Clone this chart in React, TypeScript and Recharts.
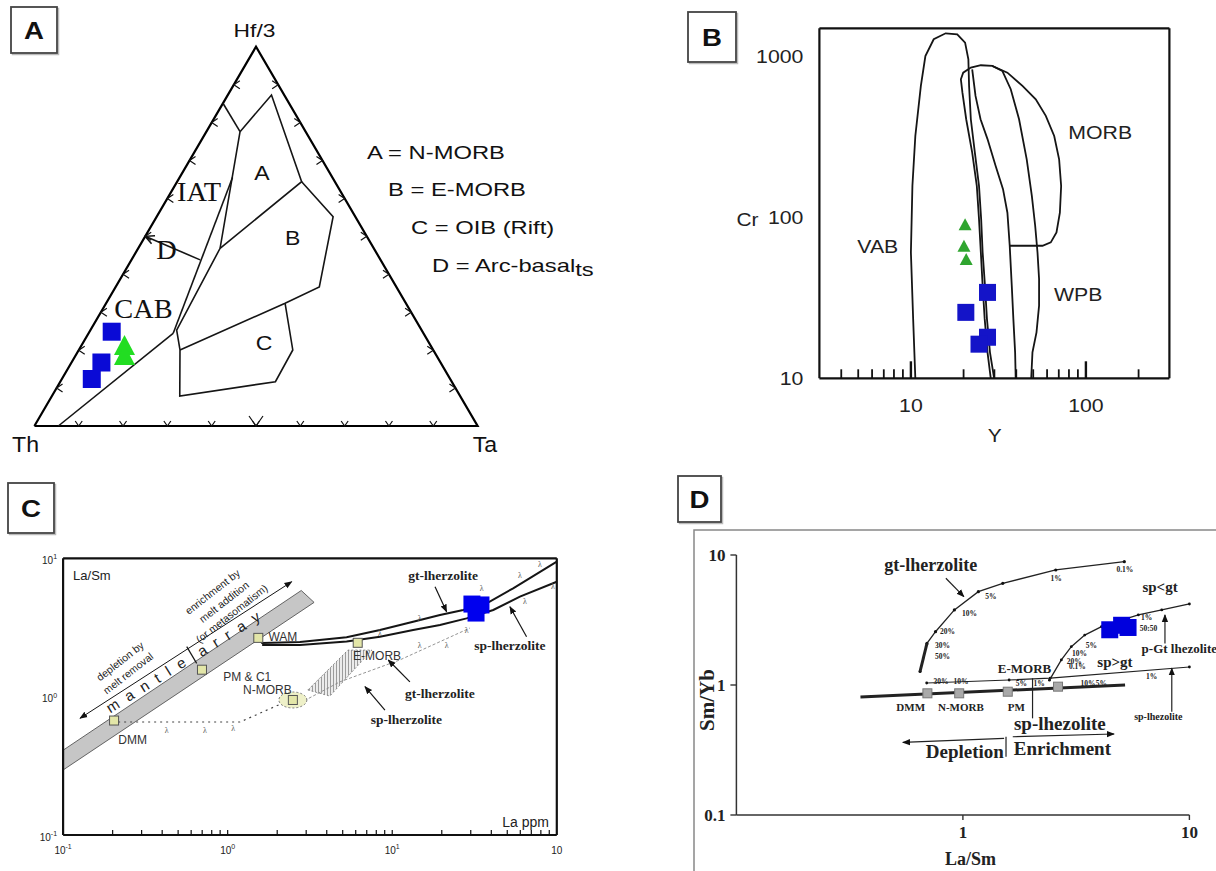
import React from "react";
import { ScatterChart, Scatter, XAxis, YAxis } from "recharts";

const SANS = "Arial, 'Liberation Sans', Helvetica, sans-serif";
const SERIF = "'Times New Roman', 'Liberation Serif', Times, serif";

type Pt = { x: number; y: number };
type Lbl = { x: number; y: number; t: string };

// ---------- A: Th - Hf/3 - Ta ternary, rows are [Th, Hf/3, Ta]
const A_FRAME = [[1, 0, 0], [0, 1, 0], [0, 0, 1], [1, 0, 0]];
const A_LINE_BASE = [[0.946, 0, 0.054], [0.565, 0.244, 0.191]];
const A_LINE_LEFT = [[0.565, 0.244, 0.191], [0.2255, 0.655, 0.1195]];
const A_LINE_RIGHT = [[0.5713, 0.2004, 0.2283], [0.5525, 0.253, 0.1945], [0.3468, 0.4685, 0.1847], [0.148, 0.776, 0.076]];
const A_LINE_TOP = [[0.149, 0.851, 0], [0.148, 0.776, 0.076]];
const A_FIELD_A = [[0.148, 0.776, 0.076], [0.0287, 0.8727, 0.0986], [0.075, 0.644, 0.281], [0.3468, 0.4685, 0.1847]];
const A_FIELD_B = [[0.075, 0.644, 0.281], [0.05, 0.552, 0.398], [0.174, 0.367, 0.46], [0.2726, 0.3235, 0.4039], [0.5713, 0.2004, 0.2283]];
const A_FIELD_C = [[0.2726, 0.3235, 0.4039], [0.3168, 0.2004, 0.4828], [0.398, 0.1168, 0.4856], [0.6325, 0.079, 0.2885], [0.5713, 0.2004, 0.2283]];
const A_ARROW_D = [[0.407, 0.438, 0.155], [0.5, 0.5, 0]];
const A_TICKS = [0.1, 0.2, 0.3, 0.4, 0.5, 0.6, 0.7, 0.8, 0.9];
const A_BIG_TICK = [0.5];
const A_BASALT = [[0.7013, 0.2486, 0.0501], [0.7651, 0.1674, 0.0675], [0.8085, 0.1239, 0.0675]];
const A_GREEN = [[0.6899, 0.2136, 0.0965], [0.7031, 0.1872, 0.1097]];
const A_FIELD_NAMES: [number[], string][] = [[[0.1535, 0.667, 0.18], "A"], [[0.1695, 0.495, 0.3355], "B"], [[0.373, 0.218, 0.409], "C"]];
const A_ARC_NAMES: [number[], string][] = [[[0.3197, 0.6177, 0.0626], "IAT"], [[0.47, 0.464, 0.066], "D"], [[0.599, 0.31, 0.091], "CAB"]];

// ---------- B: Cr vs Y
const B_X_DOMAIN = [3, 300];
const B_Y_DOMAIN = [10, 1500];
const B_X_MINOR = [4, 5, 6, 7, 8, 9, 20, 30, 40, 50, 60, 70, 80, 90, 200];
const B_X_LABELED = [10, 100];
const B_Y_MINOR = [20, 30, 40, 50, 60, 70, 80, 90, 200, 300, 400, 500, 600, 700, 800, 900];
const B_Y_LABELED = [10, 100, 1000];
const B_VAB = [[10.6, 10], [10.3, 23.4], [10.0, 60.6], [10.2, 157], [10.6, 321], [11.4, 658], [12.1, 1009], [13.5, 1282], [15.8, 1396], [18.4, 1377], [20.4, 1222], [21.3, 962], [21.5, 658], [22.0, 408], [23.2, 253], [24.5, 157], [25.2, 97.7], [25.7, 60.6], [26.5, 37.7], [27.2, 23.4], [28.3, 14.5], [29.9, 10]];
const B_WPB = [[28.6, 10], [27.4, 14.5], [26.4, 23.4], [25.7, 37.7], [25.1, 60.6], [24.5, 97.7], [23.8, 157], [22.4, 253], [20.7, 408], [19.7, 597], [19.3, 723], [19.9, 795], [22.0, 855], [25.1, 884], [29.2, 875], [33.3, 814], [37.2, 627], [41.5, 408], [45.9, 230], [49.1, 136], [51.3, 88.8], [52.9, 60.6], [54.0, 41.4], [54.0, 28.3], [52.2, 19.3], [49.5, 14.5], [48.7, 10]];
const B_MORB_LEFT = [[22.4, 834], [23.4, 570], [25.0, 408], [27.4, 307], [30.5, 209], [33.6, 150], [35.6, 107], [36.7, 66.7], [37.7, 37.7], [38.5, 23.4], [39.4, 14.5], [39.7, 10]];
const B_MORB = [[29.2, 875], [35.6, 795], [43.4, 658], [51.7, 543], [59.0, 428], [65.9, 321], [70.3, 230], [72.2, 157], [71.0, 107], [67.9, 80.7], [63.0, 70.0], [56.5, 66.7], [36.7, 66.7]];
const B_BASALT = [[27.4, 34.2], [20.6, 25.7], [27.4, 18.0], [24.5, 16.3]];
const B_GREEN = [[20.4, 90.9], [20.1, 66.7], [20.7, 55.1]];
const B_NAMES: [number, number, string][] = [[6.47, 66.4, "VAB"], [120.8, 339, "MORB"], [90.4, 33.4, "WPB"]];

// ---------- C: La/Sm vs La ppm
const C_X_DOMAIN = [0.1, 100];
const C_Y_DOMAIN = [0.1, 10];
const C_X_TICKS = [0.2, 0.3, 0.4, 0.5, 0.6, 0.7, 0.8, 0.9, 1, 2, 3, 4, 5, 6, 7, 8, 9, 10, 20, 30, 40, 50, 60, 70, 80, 90];
const C_X_MAJOR = [0.1, 1, 10, 100];
const C_X_EXP = ["-1", "0", "1", ""];
const C_Y_MINOR = [0.2, 0.3, 0.4, 0.5, 0.6, 0.7, 0.8, 0.9, 2, 3, 4, 5, 6, 7, 8, 9];
const C_Y_MAJOR = [0.1, 1, 10];
const C_Y_EXP = ["-1", "0", "1"];
const C_BAND = [[0.1, 0.41], [2.8, 5.85], [3.35, 4.8], [0.1, 0.295], [0.1, 0.41]];
const C_HATCH = [[3.07, 1.117], [5.38, 2.17], [7.53, 2.17], [4.18, 1.01], [3.07, 1.117]];
const C_UPPER = [[1.535, 2.66], [1.62, 2.44], [2.75, 2.48], [5.28, 2.69], [8.42, 3.03], [13.4, 3.48], [19.5, 3.89], [27.0, 4.23], [37.5, 4.73], [54.3, 6.07], [100, 9.45]];
const C_LOWER = [[1.62, 2.36], [2.75, 2.36], [5.28, 2.5], [8.42, 2.71], [13.4, 3.03], [19.5, 3.3], [28.3, 3.68], [41.1, 4.23], [59.7, 5.28], [100, 6.77]];
const C_DMM_TRACE = [[0.216, 0.656], [1.19, 0.656], [2.17, 0.9]];
const C_SP_TRACE = [[2.75, 0.9], [4.81, 1.28], [11.1, 1.84], [29.6, 3.13]];
const C_TREND = [[0.1267, 0.6975], [2.45, 6.77]];
const C_DIVIDER = [[0.564, 2.3], [0.648, 1.74]];
const C_ARROWS = [
  [[18.2, 6.23], [21.4, 4.11]],
  [[65.5, 2.71], [51.9, 4.47]],
  [[12.8, 1.28], [9.46, 1.84]],
  [[9.03, 0.8], [6.83, 1.18]],
];
const C_SOURCES = [[0.204, 0.672], [0.698, 1.566], [1.535, 2.66], [6.17, 2.45]];
const C_NMORB = [[2.49, 0.946]];
const C_BASALT = [[30.5, 4.67], [34.6, 4.6], [32.3, 4.02]];
const C_MELT = [[34.9, 6.07], [59.7, 7.57], [78.9, 8.95], [64.0, 4.86], [94.6, 6.23], [14.7, 3.68], [8.42, 2.87], [14.7, 2.36], [21.4, 2.36], [28.3, 3.03], [0.426, 0.574], [0.727, 0.574], [1.08, 0.59]];
const C_SOURCE_NAMES: [number, number, string][] = [[1.77, 2.69, "WAM"], [0.94, 1.39, "PM & C1"], [1.24, 1.12, "N-MORB"], [0.2165, 0.486, "DMM"], [5.78, 1.96, "E-MORB"]];
const C_CORNER_TOP: [number, number, string][] = [[0.115, 7.57, "La/Sm"]];
const C_CORNER_BOTTOM: [number, number, string][] = [[89.5, 0.124, "La ppm"]];
const C_MODEL_NAMES: [number, number, string][] = [[20.4, 7.57, "gt-lherzolite"], [51.9, 2.36, "sp-lherzolite"], [19.5, 1.057, "gt-lherzolite"], [12.2, 0.678, "sp-lherzolite"]];
const C_ARRAY_WORDS: [number, number, string][] = [[0.323, 1.234, "m a n t l e"], [1.027, 2.88, "a r r a y"]];
const C_TREND_WORDS: [number, number, string][] = [[0.2216, 1.81, "depletion by"], [0.248, 1.48, "melt removal"], [0.807, 5.74, "enrichment by"], [0.948, 4.86, "melt addition"], [1.055, 4.0, "(or metasomatism)"]];

// ---------- D: Sm/Yb vs La/Sm
const D_DOMAIN = [0.1, 10];
const D_X_TICKS = [1, 10];
const D_Y_TICKS = [0.1, 1, 10];
const D_ARRAY = [[0.353, 0.809], [5.2, 1.0]];
const D_SP = [[0.692, 1.036], [1.6, 1.093], [2.43, 1.13], [10, 1.375]];
const D_GT = [[0.647, 1.27], [0.694, 2.09], [0.757, 2.57], [0.917, 3.78], [1.17, 5.22], [1.5, 6.06], [2.57, 7.67], [5.16, 8.88]];
const D_GT_TAIL = [[0.647, 1.27], [0.694, 2.09]];
const D_PGT = [[2.41, 1.09], [2.72, 1.56], [3.01, 1.97], [3.45, 2.42], [4.09, 2.81], [5.02, 3.16], [5.95, 3.46], [7.55, 3.78], [10, 4.2]];
const D_SOURCES = [[0.697, 0.863], [0.963, 0.863], [1.578, 0.888], [2.63, 0.971]];
const D_BASALT = [[4.45, 2.66], [5.02, 2.88], [5.36, 2.77]];
const D_ARROWS = [
  [[0.841, 6.62], [1.01, 4.78]],
  [[7.8, 2.09], [7.8, 3.46]],
  [[8.36, 0.623], [8.36, 1.345]],
  [[1.52, 0.389], [0.543, 0.362]],
  [[1.66, 0.4], [4.65, 0.42]],
];
const D_RULES = [
  [[1.55, 0.4], [1.55, 0.281]],
  [[2.03, 1.126], [2.03, 0.554]],
];
const D_SOURCE_NAMES: [number, number, string][] = [[0.588, 0.681, "DMM"], [0.98, 0.681, "N-MORB"], [1.72, 0.681, "PM"]];
const D_EMORB_NAME: [number, number, string][] = [[1.87, 1.345, "E-MORB"]];
const D_BIG_WORDS: [number, number, string][] = [[2.68, 0.507, "sp-lhezolite"], [1.02, 0.307, "Depletion"], [2.75, 0.326, "Enrichment"]];
const D_GT_NAME: [number, number, string][] = [[0.721, 8.38, "gt-lherzolite"]];
const D_FIELD_NAMES: [number, number, string][] = [[7.42, 5.7, "sp<gt"], [4.69, 1.51, "sp>gt"]];
const D_PGT_NAME: [number, number, string][] = [[6.15, 1.92, "p-Gt lhezolite"]];
const D_SP_NAME: [number, number, string][] = [[7.29, 0.57, "sp-lhezolite"]];
const D_PERCENTS: [number, number, string][] = [
  [0.813, 1.65, "50%"], [0.813, 2.03, "30%"], [0.855, 2.57, "20%"], [1.07, 3.56, "10%"], [1.33, 4.78, "5%"],
  [2.58, 6.62, "1%"], [5.19, 7.67, "0.1%"], [3.69, 2.03, "5%"], [3.27, 1.76, "10%"], [3.1, 1.51, "20%"],
  [3.2, 1.38, "0.1%"], [6.47, 3.28, "1%"], [6.59, 2.74, "50:50"], [6.81, 1.16, "1%"], [3.57, 1.03, "10%"],
  [4.09, 1.03, "5%"], [1.81, 1.02, "5%"], [2.17, 1.02, "1%"], [0.8, 1.06, "30%"], [0.98, 1.06, "10%"],
];

// ---------- helpers
const tern = (rows: number[][]): Pt[] =>
  rows.map(([th, hf, ta]) => {
    const s = th + hf + ta;
    return { x: (ta + hf / 2) / s, y: hf / s };
  });
const ternLabels = (rows: [number[], string][]): Lbl[] =>
  rows.map(([p, t]) => ({ ...tern([p])[0], t }));
const xy = (rows: number[][]): Pt[] => rows.map(([x, y]) => ({ x, y }));
const lab = (rows: [number, number, string][]): Lbl[] => rows.map(([x, y, t]) => ({ x, y, t }));
const atX = (x: number, ys: number[]): Pt[] => ys.map((y) => ({ x, y }));
const atY = (y: number, xs: number[]): Pt[] => xs.map((x) => ({ x, y }));

function Txt({ x, y, size, children, anchor = "middle", family = SANS, weight = "normal", sx = 1, angle = 0, fill = "#111", spacing = 0 }: any) {
  return (
    <text
      transform={`translate(${x} ${y}) rotate(${angle}) scale(${sx} 1)`}
      fontSize={size}
      fontFamily={family}
      fontWeight={weight}
      textAnchor={anchor}
      dominantBaseline="central"
      fill={fill}
      letterSpacing={spacing}
    >
      {children}
    </text>
  );
}

const NoDot = () => <g />;
const dot = (r: number) => (p: any) => <circle cx={p.cx} cy={p.cy} r={r} fill="#111" />;
const square = (s: number, fill: string, stroke = "none") => (p: any) => (
  <rect x={p.cx - s / 2} y={p.cy - s / 2} width={s} height={s} fill={fill} stroke={stroke} strokeWidth={1} />
);
const triangle = (w: number, h: number, fill: string) => (p: any) => (
  <polygon points={`${p.cx},${p.cy - h / 2} ${p.cx - w / 2},${p.cy + h / 2} ${p.cx + w / 2},${p.cy + h / 2}`} fill={fill} />
);
const chevron = (dx: number, dy: number) => (p: any) => (
  <path d={`M${p.cx + dx},${p.cy - dy} L${p.cx},${p.cy} L${p.cx + dx},${p.cy + dy}`} fill="none" stroke="#111" strokeWidth={1.2} />
);
const vee = (s: number) => (p: any) => (
  <path d={`M${p.cx - s * 0.7},${p.cy - s} L${p.cx},${p.cy} L${p.cx + s * 0.7},${p.cy - s}`} fill="none" stroke="#111" strokeWidth={1.2} />
);
const tickMark = (dx: number, dy: number, w: number, color: string) => (p: any) => (
  <path d={`M${p.cx},${p.cy} L${p.cx + dx},${p.cy + dy}`} stroke={color} strokeWidth={w} fill="none" />
);
const ovalSquare = (p: any) => (
  <g>
    <ellipse cx={p.cx} cy={p.cy} rx={14} ry={8} fill="#eef0c8" stroke="#777" strokeDasharray="2 2" />
    <rect x={p.cx - 4.5} y={p.cy - 4.5} width={9} height={9} fill="#e3e6a8" stroke="#555" />
  </g>
);
const textShape = (o: any) => (p: any) => <Txt x={p.cx} y={p.cy} {...o}>{p.payload.t}</Txt>;

const path = (key: string, data: Pt[], line: any, shape: any = NoDot) => (
  <Scatter key={key} data={data} line={line} shape={shape} isAnimationActive={false} />
);
const marks = (key: string, data: any[], shape: any) => (
  <Scatter key={key} data={data} shape={shape} isAnimationActive={false} />
);

const FRAME = { stroke: "#111", strokeWidth: 2.2 };
const INK = "#151515";
const Abs = ({ x, y, children }: any) => <div style={{ position: "absolute", left: x, top: y }}>{children}</div>;

// inward tick lines drawn by mirrored axes (no labels, no axis line)
const inner = (len: number, w: number) => ({
  type: "number" as const,
  scale: "log" as const,
  mirror: true,
  interval: 0,
  tick: false,
  tickSize: len,
  tickLine: { stroke: "#111", strokeWidth: w },
  axisLine: false,
});

// ---------- A
function PanelA() {
  return (
    <ScatterChart width={600} height={470} margin={{ top: 46.7, right: 122.4, bottom: 44, left: 34.4 }}>
      <XAxis type="number" dataKey="x" domain={[0, 1]} hide />
      <YAxis type="number" dataKey="y" domain={[0, 1]} hide />
      {path("frame", tern(A_FRAME), { stroke: "#000", strokeWidth: 2.2 })}
      {[A_LINE_BASE, A_LINE_LEFT, A_LINE_RIGHT, A_LINE_TOP, A_FIELD_A, A_FIELD_B, A_FIELD_C].map((l, i) =>
        path("f" + i, tern(l), { stroke: INK, strokeWidth: 1.6 })
      )}
      {path("dArrow", tern(A_ARROW_D), { stroke: INK, strokeWidth: 1.6, markerEnd: "url(#ahOpen)" })}
      {marks("tl", tern(A_TICKS.map((t) => [1 - t, t, 0])), chevron(6, 4))}
      {marks("tr", tern(A_TICKS.map((t) => [0, t, 1 - t])), chevron(-6, 4))}
      {marks("tb", tern(A_TICKS.map((t) => [1 - t, 0, t])), vee(5))}
      {marks("tbb", tern(A_BIG_TICK.map((t) => [1 - t, 0, t])), vee(10))}
      {marks("green", tern(A_GREEN), triangle(21, 20, "#22dd22"))}
      {marks("blue", tern(A_BASALT), square(18, "#0a0ad6"))}
      {marks("fieldNames", ternLabels(A_FIELD_NAMES), textShape({ size: 20, sx: 1.15 }))}
      {marks("arcNames", ternLabels(A_ARC_NAMES), textShape({ size: 27, family: SERIF, sx: 1.05 }))}
    </ScatterChart>
  );
}

// ---------- B
const bLabel = (side: string) => (p: any) => {
  const v = p.payload.value;
  if (side === "bottom") return <Txt x={p.x} y={p.y + 27} size={19} sx={1.12} fill="#222">{v}</Txt>;
  return <Txt x={p.x - 16} y={p.y} size={19} sx={1.12} anchor="end" fill="#222">{v}</Txt>;
};

function FrameB() {
  const common = { type: "number" as const, scale: "log" as const, interval: 0, tickSize: 0, tickMargin: 0, tickLine: false, axisLine: FRAME };
  return (
    <ScatterChart width={576} height={470} margin={{ top: 18.3, right: 36.6, bottom: 61.7, left: 119.4 }}>
      <XAxis {...common} dataKey="x" domain={B_X_DOMAIN} ticks={B_X_LABELED} tick={bLabel("bottom")} height={30} />
      <XAxis {...common} xAxisId="t" orientation="top" dataKey="x" domain={B_X_DOMAIN} tick={false} height={10} />
      <YAxis {...common} dataKey="y" domain={B_Y_DOMAIN} ticks={B_Y_LABELED} tick={bLabel("left")} width={60} />
      <YAxis {...common} yAxisId="r" orientation="right" dataKey="y" domain={B_Y_DOMAIN} tick={false} width={10} />
      <Scatter xAxisId="t" yAxisId="r" data={xy(B_BASALT)} shape={NoDot} isAnimationActive={false} />
      {marks("bottomMinor", atY(B_Y_DOMAIN[0], B_X_MINOR), tickMark(0, -9, 1.8, "#111"))}
      {marks("bottomMajor", atY(B_Y_DOMAIN[0], B_X_LABELED), tickMark(0, -17, 2.4, "#111"))}
    </ScatterChart>
  );
}

function TicksB() {
  return (
    <ScatterChart width={576} height={470} margin={{ top: 28.3, right: 46.6, bottom: 91.7, left: 179.4 }}>
      <XAxis {...inner(9, 1.8)} xAxisId="tm" orientation="top" dataKey="x" domain={B_X_DOMAIN} ticks={B_X_MINOR} height={1} />
      <XAxis {...inner(17, 2.4)} xAxisId="tM" orientation="top" dataKey="x" domain={B_X_DOMAIN} ticks={B_X_LABELED} height={1} />
      <YAxis {...inner(9, 1.8)} yAxisId="lm" orientation="left" dataKey="y" domain={B_Y_DOMAIN} ticks={B_Y_MINOR} width={1} />
      <YAxis {...inner(17, 2.4)} yAxisId="lM" orientation="left" dataKey="y" domain={B_Y_DOMAIN} ticks={B_Y_LABELED} width={1} />
      <YAxis {...inner(9, 1.8)} yAxisId="rm" orientation="right" dataKey="y" domain={B_Y_DOMAIN} ticks={B_Y_MINOR} width={1} />
      <YAxis {...inner(17, 2.4)} yAxisId="rM" orientation="right" dataKey="y" domain={B_Y_DOMAIN} ticks={B_Y_LABELED} width={1} />
      <Scatter xAxisId="tm" yAxisId="lm" data={xy(B_BASALT)} shape={NoDot} isAnimationActive={false} />
      <Scatter xAxisId="tM" yAxisId="lM" data={xy(B_BASALT)} shape={NoDot} isAnimationActive={false} />
      <Scatter xAxisId="tm" yAxisId="rm" data={xy(B_BASALT)} shape={NoDot} isAnimationActive={false} />
      <Scatter xAxisId="tM" yAxisId="rM" data={xy(B_BASALT)} shape={NoDot} isAnimationActive={false} />
    </ScatterChart>
  );
}

function PanelB() {
  return (
    <ScatterChart width={576} height={470} margin={{ top: 28.3, right: 46.6, bottom: 91.7, left: 179.4 }}>
      <XAxis type="number" dataKey="x" scale="log" domain={B_X_DOMAIN} hide />
      <YAxis type="number" dataKey="y" scale="log" domain={B_Y_DOMAIN} hide />
      {[B_VAB, B_WPB, B_MORB_LEFT, B_MORB].map((l, i) => path("b" + i, xy(l), { stroke: INK, strokeWidth: 1.8 }))}
      {marks("green", xy(B_GREEN), triangle(13, 12, "#2fa52f"))}
      {marks("blue", xy(B_BASALT), square(17, "#1414c8"))}
      {marks("names", lab(B_NAMES), textShape({ size: 19, sx: 1.12, fill: "#222" }))}
    </ScatterChart>
  );
}

// ---------- C
const cLabel = (side: string) => (p: any) => {
  const v = p.payload.value;
  if (side === "left") {
    const i = C_Y_MAJOR.indexOf(v);
    return (
      <text x={p.x - 6} y={p.y + 2} textAnchor="end" dominantBaseline="central" fontSize={10} fontFamily={SANS} fill="#222">
        10<tspan dy={-4} fontSize={7}>{C_Y_EXP[i]}</tspan>
      </text>
    );
  }
  const i = C_X_MAJOR.indexOf(v);
  return (
    <text x={p.x} y={p.y + 15} textAnchor="middle" dominantBaseline="central" fontSize={10} fontFamily={SANS} fill="#222">
      10<tspan dy={-4} fontSize={7}>{C_X_EXP[i]}</tspan>
    </text>
  );
};

function FrameC() {
  const common = { type: "number" as const, scale: "log" as const, interval: 0, tickSize: 0, tickMargin: 0, tickLine: false, axisLine: FRAME };
  return (
    <ScatterChart width={600} height={401} margin={{ top: 78.3, right: 33.2, bottom: 6, left: 3.1 }}>
      <XAxis {...common} dataKey="x" domain={C_X_DOMAIN} ticks={C_X_MAJOR} tick={cLabel("bottom")} height={30} />
      <XAxis {...common} xAxisId="t" orientation="top" dataKey="x" domain={C_X_DOMAIN} tick={false} height={10} />
      <YAxis {...common} dataKey="y" domain={C_Y_DOMAIN} ticks={C_Y_MAJOR} tick={cLabel("left")} width={60} />
      <YAxis {...common} yAxisId="r" orientation="right" dataKey="y" domain={C_Y_DOMAIN} tick={false} width={10} />
      <Scatter xAxisId="t" yAxisId="r" data={xy(C_BASALT)} shape={NoDot} isAnimationActive={false} />
      {marks("bottomMinor", atY(C_Y_DOMAIN[0], C_X_TICKS), tickMark(0, -5, 1.2, "#111"))}
    </ScatterChart>
  );
}

function TicksC() {
  return (
    <ScatterChart width={600} height={401} margin={{ top: 88.3, right: 43.2, bottom: 36, left: 63.1 }}>
      <XAxis {...inner(5, 1.2)} xAxisId="bm" orientation="bottom" dataKey="x" domain={C_X_DOMAIN} ticks={C_X_TICKS} height={1} />
      <YAxis {...inner(5, 1.2)} yAxisId="lm" orientation="left" dataKey="y" domain={C_Y_DOMAIN} ticks={C_Y_MINOR} width={1} />
      <YAxis {...inner(7, 1.4)} yAxisId="lM" orientation="left" dataKey="y" domain={C_Y_DOMAIN} ticks={C_Y_MAJOR} width={1} />
      <Scatter xAxisId="bm" yAxisId="lm" data={xy(C_BASALT)} shape={NoDot} isAnimationActive={false} />
      <Scatter xAxisId="bm" yAxisId="lM" data={xy(C_BASALT)} shape={NoDot} isAnimationActive={false} />
    </ScatterChart>
  );
}

function PanelC() {
  return (
    <ScatterChart width={600} height={401} margin={{ top: 88.3, right: 43.2, bottom: 36, left: 63.1 }}>
      <XAxis type="number" dataKey="x" scale="log" domain={C_X_DOMAIN} hide />
      <YAxis type="number" dataKey="y" scale="log" domain={C_Y_DOMAIN} hide />
      {path("band", xy(C_BAND), { stroke: "#555", strokeWidth: 0.9, fill: "#c6c6c6" })}
      {path("hatch", xy(C_HATCH), { stroke: "#777", strokeWidth: 0.8, strokeDasharray: "2 2", fill: "url(#hatch)" })}
      {path("dmmTrace", xy(C_DMM_TRACE), { stroke: "#444", strokeWidth: 1.2, strokeDasharray: "2 4" })}
      {path("spTrace", xy(C_SP_TRACE), { stroke: "#888", strokeWidth: 0.9, strokeDasharray: "3 2" })}
      {path("upper", xy(C_UPPER), { stroke: INK, strokeWidth: 2 })}
      {path("lower", xy(C_LOWER), { stroke: INK, strokeWidth: 2 })}
      {path("trend", xy(C_TREND), { stroke: INK, strokeWidth: 1, markerStart: "url(#ah)", markerEnd: "url(#ah)" })}
      {path("divider", xy(C_DIVIDER), { stroke: INK, strokeWidth: 1.2 })}
      {C_ARROWS.map((a, i) => path("ca" + i, xy(a), { stroke: INK, strokeWidth: 1.2, markerEnd: "url(#ah)" }))}
      {marks("melt", xy(C_MELT).map((p) => ({ ...p, t: "λ" })), textShape({ size: 8, family: SERIF, fill: "#555" }))}
      {marks("sources", xy(C_SOURCES), square(9, "#e3e6a8", "#555"))}
      {marks("nmorb", xy(C_NMORB), ovalSquare)}
      {marks("blue", xy(C_BASALT), square(17, "#0000ee"))}
      {marks("srcNames", lab(C_SOURCE_NAMES), textShape({ size: 12, anchor: "start", fill: "#333" }))}
      {marks("cornerT", lab(C_CORNER_TOP), textShape({ size: 13, anchor: "start", fill: "#222" }))}
      {marks("cornerB", lab(C_CORNER_BOTTOM), textShape({ size: 14, anchor: "end", fill: "#222" }))}
      {marks("models", lab(C_MODEL_NAMES), textShape({ size: 13.5, family: SERIF, weight: "bold", fill: "#222" }))}
      {marks("array", lab(C_ARRAY_WORDS), textShape({ size: 15, angle: -32, fill: "#222", spacing: 2.5 }))}
      {marks("trendWords", lab(C_TREND_WORDS), textShape({ size: 10.5, angle: -38, fill: "#222" }))}
    </ScatterChart>
  );
}

// ---------- D
const dLabel = (side: string) => (p: any) => {
  const v = String(p.payload.value);
  if (side === "left") return <Txt x={p.x - 5} y={p.y} size={17} family={SERIF} weight="bold" anchor="end" fill="#222">{v}</Txt>;
  return <Txt x={p.x} y={p.y + 12} size={17} family={SERIF} weight="bold" fill="#222">{v}</Txt>;
};

function FrameD() {
  const common = { type: "number" as const, scale: "log" as const, interval: 0, tickMargin: 0, tickLine: { stroke: "#333", strokeWidth: 1.4 }, axisLine: { stroke: "#333", strokeWidth: 1.5 } };
  return (
    <ScatterChart width={536} height={401} margin={{ top: 85, right: 26.6, bottom: 26, left: 16.4 }}>
      <XAxis {...common} dataKey="x" domain={D_DOMAIN} ticks={D_X_TICKS} tick={dLabel("bottom")} tickSize={5} height={30} />
      <YAxis {...common} dataKey="y" domain={D_DOMAIN} ticks={D_Y_TICKS} tick={dLabel("left")} tickSize={6} width={40} />
      <Scatter data={xy(D_BASALT)} shape={NoDot} isAnimationActive={false} />
    </ScatterChart>
  );
}

function PanelD() {
  return (
    <ScatterChart width={536} height={401} margin={{ top: 85, right: 26.6, bottom: 56, left: 56.4 }}>
      <XAxis type="number" dataKey="x" scale="log" domain={D_DOMAIN} hide />
      <YAxis type="number" dataKey="y" scale="log" domain={D_DOMAIN} hide />
      {path("array", xy(D_ARRAY), { stroke: "#222", strokeWidth: 3 })}
      {path("sp", xy(D_SP), { stroke: "#222", strokeWidth: 1.2 }, dot(1.4))}
      {path("gt", xy(D_GT), { stroke: "#222", strokeWidth: 1.3 }, dot(1.6))}
      {path("gtTail", xy(D_GT_TAIL), { stroke: "#222", strokeWidth: 3 })}
      {path("pgt", xy(D_PGT), { stroke: "#222", strokeWidth: 1.3 }, dot(1.4))}
      {D_ARROWS.map((a, i) => path("da" + i, xy(a), { stroke: "#222", strokeWidth: 1.2, markerEnd: "url(#ah)" }))}
      {D_RULES.map((a, i) => path("dr" + i, xy(a), { stroke: "#222", strokeWidth: 1.2 }))}
      {marks("sources", xy(D_SOURCES), square(9, "#a9a9a9", "#777"))}
      {marks("blue", xy(D_BASALT), square(17, "#0000dd"))}
      {marks("pct", lab(D_PERCENTS), textShape({ size: 7.5, family: SERIF, weight: "bold", fill: "#222" }))}
      {marks("srcNames", lab(D_SOURCE_NAMES), textShape({ size: 11, family: SERIF, weight: "bold", fill: "#222" }))}
      {marks("emorb", lab(D_EMORB_NAME), textShape({ size: 13, family: SERIF, weight: "bold", fill: "#222" }))}
      {marks("big", lab(D_BIG_WORDS), textShape({ size: 19, family: SERIF, weight: "bold", fill: "#222" }))}
      {marks("gtName", lab(D_GT_NAME), textShape({ size: 18, family: SERIF, weight: "bold", fill: "#222" }))}
      {marks("fields", lab(D_FIELD_NAMES), textShape({ size: 15, family: SERIF, weight: "bold", fill: "#222" }))}
      {marks("pgtName", lab(D_PGT_NAME), textShape({ size: 13, family: SERIF, weight: "bold", anchor: "start", fill: "#222" }))}
      {marks("spName", lab(D_SP_NAME), textShape({ size: 10, family: SERIF, weight: "bold", fill: "#222" }))}
    </ScatterChart>
  );
}

function PanelTag({ x, y, w, h, t }: any) {
  return (
    <g>
      <rect x={x + 1.5} y={y + 1.5} width={w} height={h} fill="none" stroke="#bbb" strokeWidth={1.5} />
      <rect x={x} y={y} width={w} height={h} fill="#fff" stroke="#444" strokeWidth={1.8} />
      <Txt x={x + w / 2} y={y + h / 2 + 1} size={24} weight="bold" sx={1.15} fill="#111">{t}</Txt>
    </g>
  );
}

export default function App() {
  return (
    <div style={{ position: "absolute", left: 0, top: 0, width: 1216, height: 871, overflow: "hidden", background: "#fff" }}>
      <Abs x={0} y={0}><PanelA /></Abs>
      <Abs x={640} y={0}><PanelB /></Abs>
      <Abs x={640} y={0}><FrameB /></Abs>
      <Abs x={640} y={0}><TicksB /></Abs>
      <Abs x={0} y={470}><PanelC /></Abs>
      <Abs x={0} y={470}><FrameC /></Abs>
      <Abs x={0} y={470}><TicksC /></Abs>
      <Abs x={680} y={470}><PanelD /></Abs>
      <Abs x={680} y={470}><FrameD /></Abs>
      <svg width={1216} height={871} style={{ position: "absolute", left: 0, top: 0, pointerEvents: "none" }}>
        <defs>
          <marker id="ah" viewBox="0 0 10 10" refX="9" refY="5" markerWidth="8" markerHeight="8" markerUnits="userSpaceOnUse" orient="auto-start-reverse">
            <path d="M0,1 L10,5 L0,9 z" fill="#111" />
          </marker>
          <marker id="ahOpen" viewBox="0 0 10 10" refX="9" refY="5" markerWidth="11" markerHeight="11" markerUnits="userSpaceOnUse" orient="auto">
            <path d="M1,1 L9,5 L1,9" fill="none" stroke="#111" strokeWidth="1.4" />
          </marker>
          <pattern id="hatch" width="3" height="6" patternUnits="userSpaceOnUse">
            <rect width="3" height="6" fill="#ececec" />
            <line x1="0.5" y1="0" x2="0.5" y2="6" stroke="#888" strokeWidth="0.8" />
          </pattern>
        </defs>
        {/* panel A captions */}
        <Txt x={254.5} y={30} size={19} sx={1.2}>Hf/3</Txt>
        <Txt x={25.5} y={445} size={22} sx={1.05}>Th</Txt>
        <Txt x={485} y={445} size={22} sx={1.05}>Ta</Txt>
        <Txt x={367} y={153} size={19} sx={1.25} anchor="start">A = N-MORB</Txt>
        <Txt x={388} y={190} size={19} sx={1.25} anchor="start">B = E-MORB</Txt>
        <Txt x={411} y={228} size={19} sx={1.25} anchor="start">C = OIB (Rift)</Txt>
        <text transform="translate(432 266) scale(1.25 1)" fontSize={19} fontFamily={SANS} dominantBaseline="central" fill="#111">
          D = Arc-basal<tspan dy={4}>ts</tspan>
        </text>
        {/* panel B captions */}
        <Txt x={747.5} y={219} size={19} sx={1.1} fill="#222">Cr</Txt>
        <Txt x={994.6} y={435} size={19} sx={1.1} fill="#222">Y</Txt>
        {/* panel D frame and captions */}
        <rect x={694} y={530} width={600} height={400} fill="none" stroke="#888" strokeWidth={1.5} />
        <Txt x={707.4} y={700} size={21} family={SERIF} weight="bold" angle={-90} fill="#222">Sm/Yb</Txt>
        <Txt x={970.6} y={859} size={18} family={SERIF} weight="bold" fill="#222">La/Sm</Txt>
        <PanelTag x={11} y={7} w={46} h={46} t="A" />
        <PanelTag x={688} y={12} w={48} h={50} t="B" />
        <PanelTag x={8} y={483} w={46} h={50} t="C" />
        <PanelTag x={678} y={476} w={43} h={46} t="D" />
      </svg>
    </div>
  );
}
